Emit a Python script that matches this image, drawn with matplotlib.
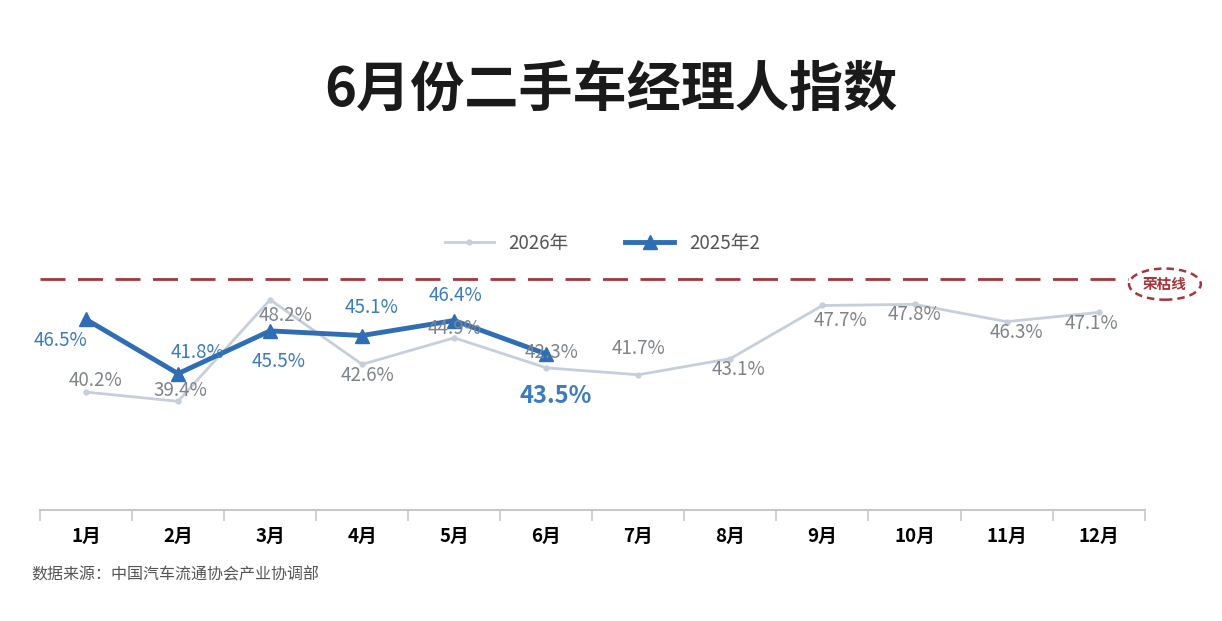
"""
6月份二手车经理人指数 - courbe mensuelle avec ligne de荣枯线 (50)
"""
import matplotlib
matplotlib.use("Agg")
import matplotlib.pyplot as plt
from matplotlib.patches import Ellipse

plt.rcParams["font.family"] = ["Noto Sans CJK SC", "DejaVu Sans"]

# --- Donnees ---
MONTHS = ["1月", "2月", "3月", "4月", "5月", "6月", "7月", "8月", "9月", "10月", "11月", "12月"]
LIGHT_NAME = "2026年"
LIGHT_VALUES = [40.2, 39.4, 48.2, 42.6, 44.9, 42.3, 41.7, 43.1, 47.7, 47.8, 46.3, 47.1]
DARK_NAME = "2025年2"
DARK_VALUES = [46.5, 41.8, 45.5, 45.1, 46.4, 43.5]
THRESHOLD = 50
THRESHOLD_LABEL = "荣枯线"
TITLE = "6月份二手车经理人指数"
SOURCE = "数据来源：中国汽车流通协会产业协调部"

# --- Style ---
LIGHT_COLOR = "#c6cfdb"
LIGHT_TEXT = "#7f848c"
DARK_COLOR = "#2f6db5"
DARK_TEXT = "#3c7bbd"
RED = "#a8353a"

# decalage des etiquettes (points typographiques)
LIGHT_OFFSETS = [(7, 8), (2, 8), (11, -11), (4, -8), (0, 7), (4, 11), (0, 19),
                 (6, -8), (13, -11), (0, -7), (7, -8), (-5, -8)]
DARK_OFFSETS = [(-18, -15), (14, 15), (6, -22), (7, 20), (1, 18), (7, -30)]


def main():
    fig = plt.figure(figsize=(12.22, 6.21), dpi=100)
    ax = fig.add_axes([0.0327, 0.179, 0.904, 0.409])

    x_light = list(range(len(LIGHT_VALUES)))
    x_dark = list(range(len(DARK_VALUES)))

    ax.plot(x_light, LIGHT_VALUES, "-o", color=LIGHT_COLOR, lw=2, ms=3.5,
            label=LIGHT_NAME, zorder=2)
    ax.plot(x_dark, DARK_VALUES, "-^", color=DARK_COLOR, lw=3.5, ms=10,
            label=DARK_NAME, zorder=3)
    ax.axhline(THRESHOLD, xmin=0, xmax=0.985, color=RED, lw=2, ls=(0, (9, 4.5)), zorder=1)

    for i, (v, off) in enumerate(zip(LIGHT_VALUES, LIGHT_OFFSETS)):
        ax.annotate(f"{v}%", (i, v), xytext=off, textcoords="offset points",
                    ha="center", va="center", fontsize=13.5, color=LIGHT_TEXT, zorder=4)
    for i, (v, off) in enumerate(zip(DARK_VALUES, DARK_OFFSETS)):
        last = i == len(DARK_VALUES) - 1
        ax.annotate(f"{v}%", (i, v), xytext=off, textcoords="offset points",
                    ha="center", va="center", color=DARK_TEXT, zorder=5,
                    fontsize=17 if last else 13.5,
                    fontweight="bold" if last else "normal")

    # etiquette 荣枯线 dans une ellipse pointillee
    ax.add_patch(Ellipse((11.72, THRESHOLD - 0.45), 0.78, 2.7, transform=ax.transData,
                         fill=False, ec=RED, lw=1.8, ls=(0, (3, 2)), clip_on=False))
    ax.text(11.72, THRESHOLD - 0.45, THRESHOLD_LABEL, ha="center", va="center",
            fontsize=10.5, color=RED, fontweight="bold", clip_on=False)

    # --- Axes ---
    ax.set_xlim(-0.5, len(MONTHS) - 0.5)
    ax.set_ylim(30, 52)
    ax.set_xticks(range(len(MONTHS)))
    ax.set_xticklabels(MONTHS, fontsize=13.5, fontweight="bold")
    ax.set_xticks([i - 0.5 for i in range(len(MONTHS) + 1)], minor=True)
    ax.tick_params(axis="x", which="major", length=0, pad=12)
    ax.tick_params(axis="x", which="minor", length=8, color="#c8c8c8", width=1.2)
    ax.set_yticks([])
    for side in ("top", "right", "left"):
        ax.spines[side].set_visible(False)
    ax.spines["bottom"].set_color("#c8c8c8")
    ax.spines["bottom"].set_linewidth(1.5)

    fig.legend(loc="center", bbox_to_anchor=(0.493, 0.608), ncol=2, frameon=False,
               fontsize=13.5, labelcolor="#555555", handlelength=2.6, columnspacing=3)

    fig.text(0.5, 0.855, TITLE, ha="center", va="center", fontsize=39,
             fontweight="bold", color="#1a1a1a")
    fig.text(0.026, 0.074, SOURCE, ha="left", va="center", fontsize=11.5, color="#555555")

    fig.savefig("out.png", dpi=100)


if __name__ == "__main__":
    main()
